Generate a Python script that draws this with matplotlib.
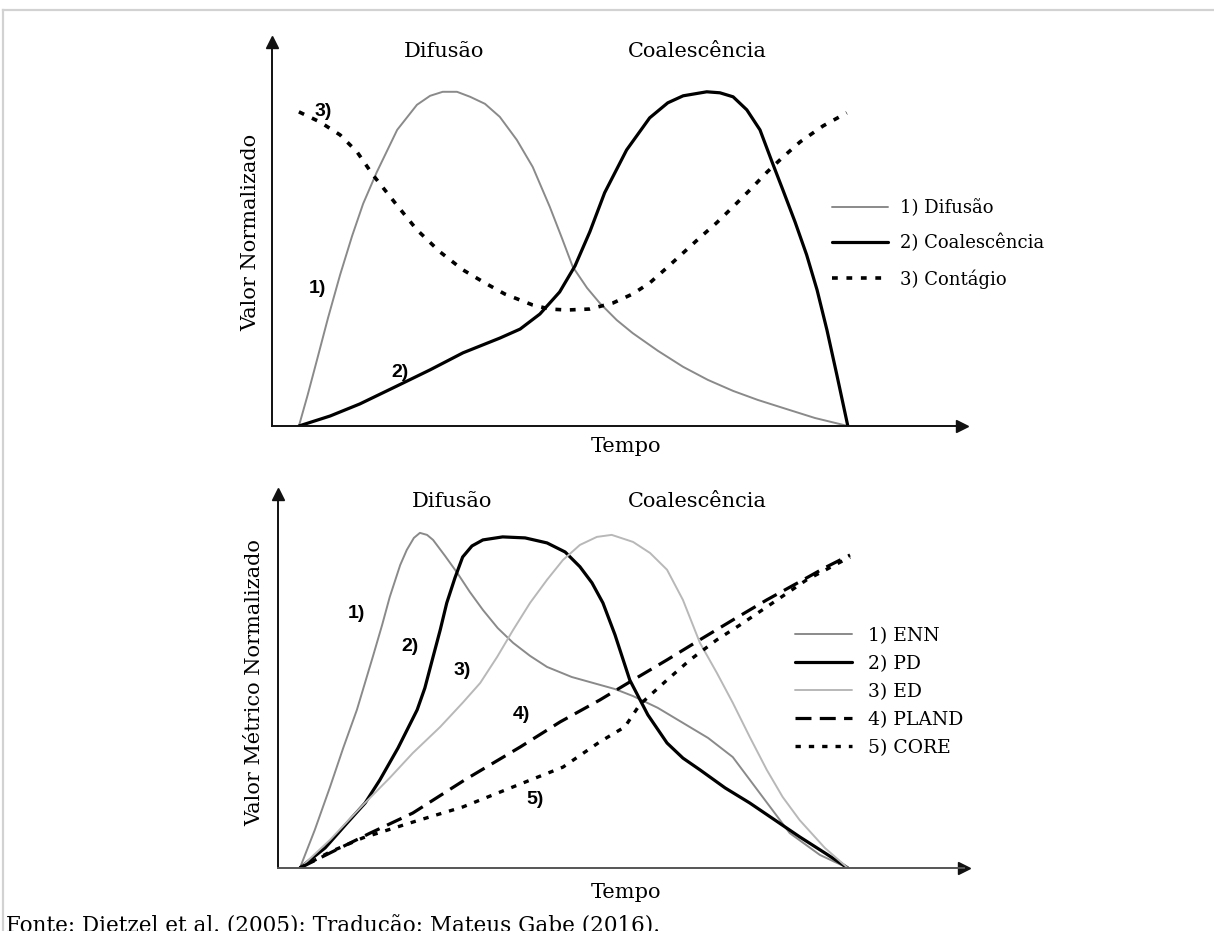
import matplotlib
matplotlib.use("Agg")
import matplotlib.pyplot as plt
from matplotlib.lines import Line2D

# ---------------- data (time 0-100, normalized value 0-100) ----------------
# Top chart: Valor Normalizado
t_difusao = [0, 1.6, 3.3, 5.3, 7.5, 9.7, 11.7, 14.2, 17.9, 21.5, 23.9, 26.2, 28.8, 31.2,
             33.9, 36.6, 39.7, 42.6, 45.7, 47.9, 49.9, 52.5, 54.8, 57.9, 60.8, 65.4,
             70.0, 74.5, 79.1, 83.6, 88.2, 94.0, 100]
v_difusao = [0, 9.3, 19.8, 32.3, 45.2, 56.9, 66.5, 76.0, 88.6, 96.1, 98.8, 100, 100, 98.5,
             96.4, 92.5, 85.6, 77.5, 65.6, 56.3, 47.6, 41.3, 36.8, 31.7, 27.8, 22.5,
             17.7, 13.8, 10.5, 7.8, 5.4, 2.4, 0]

t_coalesc = [0, 5.7, 11.1, 17.9, 23.9, 29.9, 36.6, 40.3, 43.9, 47.5, 50.3, 53.0, 55.7,
             59.7, 63.9, 67.2, 70.0, 74.3, 76.7, 79.1, 81.6, 84.0, 86.2, 88.2, 90.4,
             92.5, 94.4, 96.2, 98.0, 100]
v_coalesc = [0, 3.0, 6.6, 12.0, 16.8, 21.9, 26.3, 29.0, 33.5, 40.1, 47.9, 58.1, 69.8,
             82.6, 92.2, 96.7, 98.8, 100, 99.7, 98.5, 94.6, 88.6, 79.0, 70.5, 61.0,
             51.2, 40.7, 28.7, 15.3, 0]

t_contagio = [0, 3.8, 7.5, 10.6, 13.5, 17.5, 21.5, 25.7, 29.9, 33.9, 37.5, 42.6, 45.7,
              48.8, 53.0, 57.2, 60.8, 63.9, 67.0, 70.0, 73.0, 76.1, 79.1, 82.2, 85.3,
              88.2, 91.3, 95.5, 99.8]
v_contagio = [94.0, 91.0, 87.1, 82.0, 75.1, 66.8, 58.7, 52.1, 46.7, 42.8, 39.5, 36.2, 35.0,
              34.7, 35.0, 36.8, 39.5, 42.8, 47.3, 51.8, 56.3, 60.8, 65.6, 70.7, 76.0,
              80.5, 85.0, 89.8, 93.7]

# Bottom chart: Valor Metrico Normalizado
t_enn = [0, 2.7, 5.5, 7.9, 10.4, 13.3, 15.0, 16.4, 18.3, 19.5, 20.8, 21.9, 23.2, 24.3,
         26.5, 28.7, 31.0, 33.4, 36.1, 38.9, 42.0, 45.1, 49.6, 54.2, 57.5, 60.8, 65.3,
         69.9, 74.5, 79.0, 83.9, 89.4, 94.9, 100]
v_enn = [0, 11.3, 24.2, 35.8, 47.2, 63.0, 72.5, 80.9, 90.4, 94.9, 98.5, 100, 99.4, 97.9,
         93.1, 88.1, 82.4, 77.0, 71.6, 67.2, 63.3, 60.0, 57.0, 54.9, 53.4, 51.3, 47.8,
         43.3, 38.8, 33.1, 22.4, 10.4, 3.9, 0]

t_pd = [0, 4.6, 8.6, 11.9, 14.6, 17.9, 21.4, 22.8, 24.3, 25.6, 26.8, 28.3, 29.7, 31.4,
        33.4, 37.0, 41.1, 45.1, 48.4, 51.1, 53.3, 55.3, 57.5, 60.2, 63.5, 67.0, 69.9,
        73.0, 77.6, 82.1, 86.7, 91.2, 95.8, 100]
v_pd = [0, 6.0, 13.4, 19.4, 26.3, 35.8, 47.2, 53.7, 63.0, 71.0, 79.1, 86.6, 92.8, 96.1,
        97.9, 98.8, 98.5, 97.0, 94.3, 89.9, 85.1, 79.1, 69.6, 56.1, 45.7, 37.3, 32.8,
        29.3, 23.9, 19.4, 14.3, 9.3, 4.5, 0]

t_ed = [0, 5.5, 11.5, 16.4, 20.6, 25.6, 29.7, 32.9, 36.0, 38.9, 42.0, 45.1, 48.0, 51.1,
        54.2, 56.9, 60.8, 63.9, 67.0, 69.9, 73.0, 76.1, 79.0, 82.1, 85.2, 88.1, 91.2,
        95.8, 100]
v_ed = [0, 8.4, 18.8, 26.9, 34.3, 42.1, 49.3, 55.2, 63.0, 71.0, 79.1, 86.0, 91.9, 96.4,
        98.8, 99.4, 97.3, 94.0, 89.0, 80.0, 67.2, 58.2, 49.3, 39.1, 29.3, 21.2, 14.3,
        6.0, 0]

t_pland = [0, 5.5, 12.8, 20.6, 30.1, 40.2, 47.5, 54.7, 60.8, 67.0, 73.0, 79.0, 85.2,
           91.2, 95.8, 100.4]
v_pland = [0, 4.5, 10.4, 16.4, 26.3, 36.1, 43.6, 50.1, 56.1, 62.1, 68.1, 74.0, 80.0,
           85.4, 89.6, 93.4]

t_core = [0, 5.5, 11.5, 20.6, 29.7, 38.9, 48.0, 54.7, 59.3, 62.0, 67.0, 71.2, 76.1,
          80.3, 85.2, 92.5, 100.4]
v_core = [0, 4.8, 9.0, 13.7, 18.2, 24.2, 30.1, 37.6, 42.1, 48.7, 56.1, 62.1, 68.1,
          72.5, 77.9, 86.0, 92.8]

top_labels = ["1) Difusão", "2) Coalescência", "3) Contágio"]
bottom_labels = ["1) ENN", "2) PD", "3) ED", "4) PLAND", "5) CORE"]
phase_labels = ["Difusão", "Coalescência"]
source_text = "Fonte: Dietzel et al. (2005): Tradução: Mateus Gabe (2016)."

# ---------------- figure ----------------
W, H = 1214, 931
fig = plt.figure(figsize=(W / 100, H / 100), dpi=100)
fig.patch.set_facecolor("white")
SERIF = ["DejaVu Serif"]
NUM = dict(family=["Liberation Sans"], fontweight="bold", fontsize=14)
TXT = 15


def fx(x):
    return x / W


def fy(y):
    return 1 - y / H


def add_axes_px(left, right, top, bottom):
    return fig.add_axes([fx(left), fy(bottom), (right - left) / W, (bottom - top) / H])


def style_axes(ax, xlim, ylim, bottom_color="#111111"):
    ax.set_xlim(*xlim)
    ax.set_ylim(*ylim)
    for s in ("top", "right"):
        ax.spines[s].set_visible(False)
    ax.spines["left"].set_linewidth(1.4)
    ax.spines["left"].set_color("#111111")
    ax.spines["bottom"].set_linewidth(1.4)
    ax.spines["bottom"].set_color(bottom_color)
    ax.set_xticks([])
    ax.set_yticks([])
    ax.patch.set_alpha(0)
    ax.plot(1, 0, ">", color="#111111", ms=9, transform=ax.transAxes, clip_on=False)
    ax.plot(0, 1, "^", color="#111111", ms=9, transform=ax.transAxes, clip_on=False)


GRAY = "#8a8a8a"
LIGHT = "#b8b8b8"
JS = dict(solid_joinstyle="round", solid_capstyle="round")

# ---- top chart ----
ax1 = add_axes_px(272, 962, 42, 426)
style_axes(ax1, (-4.9, 120.8), (0, 114.9))
ax1.plot(t_difusao, v_difusao, color=GRAY, lw=1.4, label=top_labels[0], **JS)
ax1.plot(t_coalesc, v_coalesc, color="black", lw=2.3, label=top_labels[1], **JS)
ax1.plot(t_contagio, v_contagio, color="black", lw=2.6, linestyle=(0, (1.6, 2.4)),
         label=top_labels[2])

ax1.text(26.5, 112, phase_labels[0], ha="center", va="center", family=SERIF, fontsize=TXT,
         clip_on=False)
ax1.text(72.5, 112, phase_labels[1], ha="center", va="center", family=SERIF, fontsize=TXT,
         clip_on=False)
ax1.text(4.5, 94, "3)", ha="center", va="center", **NUM)
ax1.text(3.3, 41, "1)", ha="center", va="center", **NUM)
ax1.text(18.4, 15.9, "2)", ha="center", va="center", **NUM)
fig.text(fx(626), fy(447), "Tempo", ha="center", va="center", family=SERIF, fontsize=TXT)
fig.text(fx(251), fy(232), "Valor Normalizado", ha="center", va="center", rotation=90,
         family=SERIF, fontsize=TXT)

leg1 = ax1.legend(loc="upper left", bbox_to_anchor=(fx(832), fy(199)),
                  bbox_transform=fig.transFigure, frameon=False,
                  prop=dict(family=SERIF, size=13),
                  handlelength=3.1, handletextpad=0.67, labelspacing=0.93, borderpad=0,
                  borderaxespad=0)

# ---- bottom chart ----
ax2 = add_axes_px(278, 964, 494, 868)
style_axes(ax2, (-4.0, 121.2), (0, 111.6), bottom_color="#555555")
ax2.plot(t_enn, v_enn, color=GRAY, lw=1.4, label=bottom_labels[0], **JS)
ax2.plot(t_pd, v_pd, color="black", lw=2.3, label=bottom_labels[1], **JS)
ax2.plot(t_ed, v_ed, color=LIGHT, lw=1.4, label=bottom_labels[2], **JS)
ax2.plot(t_pland, v_pland, color="black", lw=2.3, linestyle=(0, (5, 2.6)),
         label=bottom_labels[3])
ax2.plot(t_core, v_core, color="black", lw=2.4, linestyle=(0, (1.6, 2.4)),
         label=bottom_labels[4])

ax2.text(27.7, 109.5, phase_labels[0], ha="center", va="center", family=SERIF, fontsize=TXT,
         clip_on=False)
ax2.text(72.6, 109.5, phase_labels[1], ha="center", va="center", family=SERIF, fontsize=TXT,
         clip_on=False)
ax2.text(10.4, 76, "1)", ha="center", va="center", **NUM)
ax2.text(20.1, 66, "2)", ha="center", va="center", **NUM)
ax2.text(29.7, 59, "3)", ha="center", va="center", **NUM)
ax2.text(40.5, 45.7, "4)", ha="center", va="center", **NUM)
ax2.text(42.9, 20.3, "5)", ha="center", va="center", **NUM)
fig.text(fx(626), fy(893), "Tempo", ha="center", va="center", family=SERIF, fontsize=TXT)
fig.text(fx(255), fy(683), "Valor Métrico Normalizado", ha="center", va="center", rotation=90,
         family=SERIF, fontsize=TXT)

leg2 = ax2.legend(loc="upper left", bbox_to_anchor=(fx(795), fy(627)),
                  bbox_transform=fig.transFigure, frameon=False,
                  prop=dict(family=SERIF, size=13.5),
                  handlelength=3.05, handletextpad=0.85, labelspacing=0.53, borderpad=0,
                  borderaxespad=0)

# ---- page decorations ----
fig.add_artist(Line2D([fx(3), fx(1214)], [fy(10), fy(10)], color="#d2d2d2", lw=1.6))
fig.add_artist(Line2D([fx(3), fx(3)], [fy(10), fy(931)], color="#d2d2d2", lw=1.6))
fig.text(fx(6), fy(932), source_text, ha="left", va="baseline", family=SERIF, fontsize=15.5)

fig.savefig("out.png", dpi=100)
